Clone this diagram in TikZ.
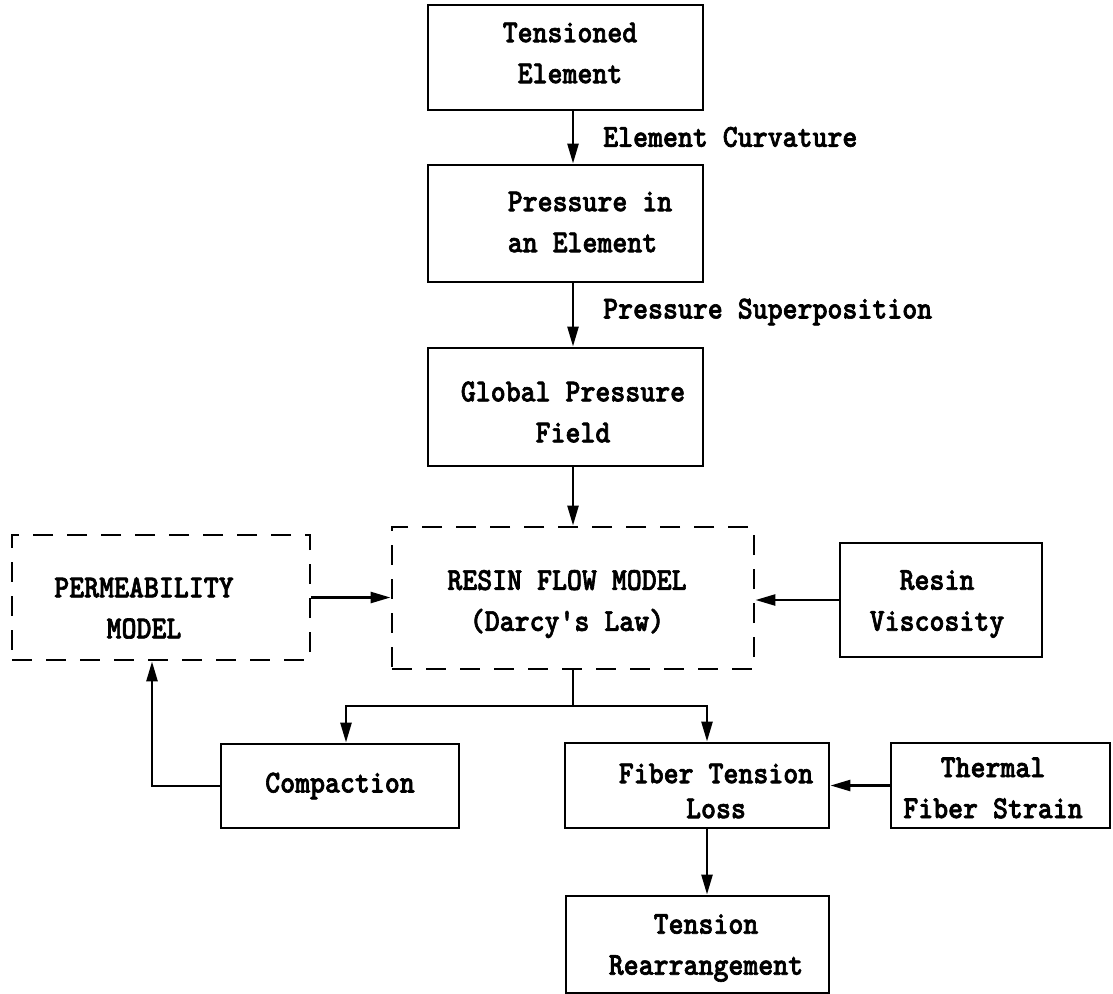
\documentclass[tikz,border=0pt]{standalone}
\usepackage{fontspec}
\newfontfamily\boxfont{lmmonolt10-bold.otf}[FakeStretch=0.89, FakeBold=2]
\usetikzlibrary{arrows.meta}
\begin{document}
\begin{tikzpicture}[x=1pt,y=-1pt,
  box/.style={draw, rectangle, line width=2.9pt, inner sep=0pt},
  dashbox/.style={box, dash pattern=on 20pt off 14pt},
  txt/.style={inner sep=0pt, align=center, font=\fontsize{32}{41}\boxfont},
  arr/.style={line width=2.6pt, -{Triangle[length=20pt,width=11pt]}},
  wire/.style={line width=2.6pt}]
\useasboundingbox (0,0) rectangle (1113,993);

% column and bus positions for the connectors
\coordinate (colA) at (573,0);
\coordinate (colB) at (707,0);
\coordinate (colC) at (346,0);
\coordinate (colD) at (152,0);
\coordinate (bus) at (0,706);

% main chain
\node[box, minimum width=275pt, minimum height=105pt] (t) at (565.5,57.5) {};
\node[txt] (tt) at (570,53) {Tensioned\\Element};

\node[box, minimum width=275pt, minimum height=117pt] (p) at (565.5,223.5) {};
\node[txt, align=left] (pt) at (590,222) {Pressure in\\an Element};

\node[box, minimum width=275pt, minimum height=118pt] (g) at (565.5,407) {};
\node[txt] (gt) at (573,412) {Global Pressure\\Field};

\node[dashbox, minimum width=362pt, minimum height=142pt] (r) at (573,598) {};
\node[txt] (rt) at (567,604) {RESIN FLOW MODEL\\(Darcy's Law)};

\node[dashbox, minimum width=298pt, minimum height=125pt] (pm) at (161,597.5) {};
\node[txt] (pmt) at (144,608) {PERMEABILITY\\MODEL};

\node[box, minimum width=202pt, minimum height=114pt] (v) at (941,600) {};
\node[txt] (vt) at (937,604) {Resin\\Viscosity};

\node[box, minimum width=238pt, minimum height=84pt] (c) at (340,786) {};
\node[txt] (ct) at (340,786) {Compaction};

\node[box, minimum width=264pt, minimum height=85pt] (f) at (697,785.5) {};
\node[txt, font=\fontsize{32}{35}\boxfont] (ft) at (716,791) {Fiber Tension\\Loss};

\node[box, minimum width=219pt, minimum height=85pt] (th) at (1000.5,785.5) {};
\node[txt] (tht) at (993,788) {Thermal\\Fiber Strain};

\node[box, minimum width=263pt, minimum height=97pt] (tr) at (697.5,944.5) {};
\node[txt] (trt) at (706,948) {Tension\\Rearrangement};

% connector labels
\node[txt, anchor=west] (l1) at (603,137) {Element Curvature};
\node[txt, anchor=west] (l2) at (603,312) {Pressure Superposition};

% connectors
\draw[arr] (t.south -| colA) -- (p.north -| colA);
\draw[arr] (p.south -| colA) -- (g.north -| colA);
\draw[arr] (g.south -| colA) -- (r.north -| colA);
\draw[arr] (pm.east) -- (pm.east -| r.west);
\draw[arr] (v.west) -- (v.west -| r.east);
\draw[wire] (r.south -| colA) -- (colA |- bus);
\draw[arr] (colA |- bus) -| (c.north -| colC);
\draw[arr] (colA |- bus) -| (f.north -| colB);
\draw[arr] (c.west) -| (pm.south -| colD);
\draw[arr] (th.west) -- (th.west -| f.east);
\draw[arr] (f.south -| colB) -- (tr.north -| colB);
\end{tikzpicture}
\end{document}
